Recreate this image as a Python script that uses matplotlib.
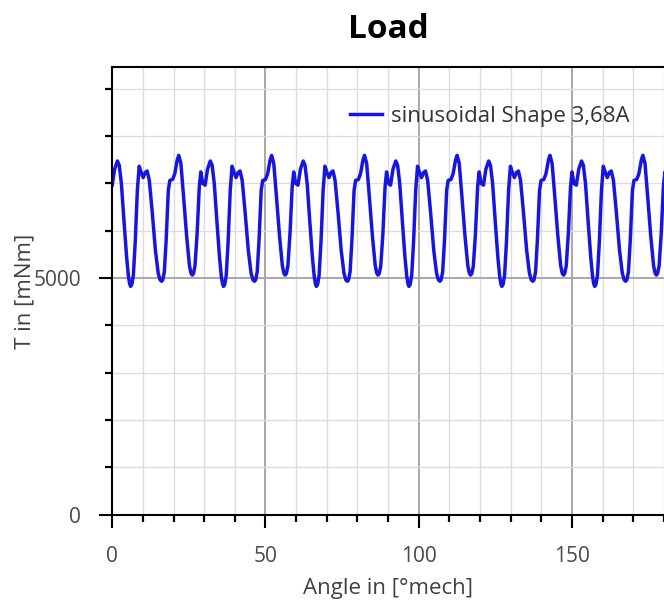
import matplotlib
matplotlib.use('Agg')
import matplotlib.pyplot as plt
from matplotlib.ticker import MultipleLocator
import numpy as np

plt.rcParams['font.family'] = ['Open Sans', 'DejaVu Sans']

# one 30 deg cycle of the torque ripple (offset in deg, torque in mNm)
cycle_angle = [0.0, 0.8, 1.7, 2.3, 3.0, 3.9, 4.7, 5.3, 5.7, 6.0, 6.4, 6.9, 7.5, 8.2,
               8.8, 9.4, 10.1, 10.8, 11.4, 12.1, 13.0, 14.1, 15.0, 15.6, 16.1, 16.5,
               17.0, 17.6, 18.3, 18.8, 19.7, 20.4, 21.2, 21.7, 22.4, 23.2, 24.3, 25.2,
               25.7, 26.1, 26.5, 27.0, 27.7, 28.4, 28.9, 29.5]
cycle_torque = [6960, 7300, 7470, 7380, 6990, 6150, 5440, 5030, 4870, 4820, 4860, 5060,
                5750, 6850, 7360, 7240, 7120, 7230, 7260, 7060, 6430, 5580, 5100, 4960,
                4930, 4960, 5130, 5800, 6850, 7060, 7080, 7200, 7490, 7590, 7420, 6780,
                5870, 5260, 5100, 5060, 5090, 5250, 5940, 6920, 7240, 7000]
# where each cycle starts on the angle axis
cycle_start = [0.0, 30.3, 60.6, 90.8, 121.1, 151.4]

label = 'sinusoidal Shape 3,68A'

angle = np.concatenate([np.array(cycle_angle) + s for s in cycle_start])
torque = np.concatenate([cycle_torque for s in cycle_start])

fig = plt.figure(figsize=(6.64, 6.03), dpi=100)
ax = fig.add_axes([0.169, 0.1466, 0.831, 0.7418])

ax.plot(angle, torque, color='#1616e0', lw=2.5, label=label, solid_joinstyle='round')

ax.set_xlim(0, 180)
ax.set_ylim(0, 9450)
ax.xaxis.set_major_locator(MultipleLocator(50))
ax.xaxis.set_minor_locator(MultipleLocator(10))
ax.yaxis.set_major_locator(MultipleLocator(5000))
ax.yaxis.set_minor_locator(MultipleLocator(1000))

ax.set_axisbelow(True)
ax.grid(which='minor', color='#dcdcdc', lw=1.0)
ax.grid(which='major', color='#a8a8a8', lw=1.4)

ax.tick_params(which='major', length=9.4, width=1.5, color='black',
               labelsize=15, labelcolor='#484848', pad=13)
ax.tick_params(which='minor', length=5, width=1.6, color='black')

for side in ['left', 'bottom', 'top']:
    ax.spines[side].set_linewidth(1.5)
    ax.spines[side].set_color('black')
ax.spines['right'].set_visible(False)

ax.set_xlabel('Angle in [°mech]', fontsize=16, color='#404040', labelpad=8)
ax.set_ylabel('T in [mNm]', fontsize=16, color='#404040', labelpad=-1.5)
ax.set_title('Load', fontsize=24, fontweight='bold', pad=21)

ax.legend(loc='center left', bbox_to_anchor=(0.431, 0.891), frameon=False,
          fontsize=16, handlelength=1.44, handletextpad=0.42, borderpad=0,
          borderaxespad=0, labelcolor='#333333')

fig.savefig('out.png', dpi=100)
